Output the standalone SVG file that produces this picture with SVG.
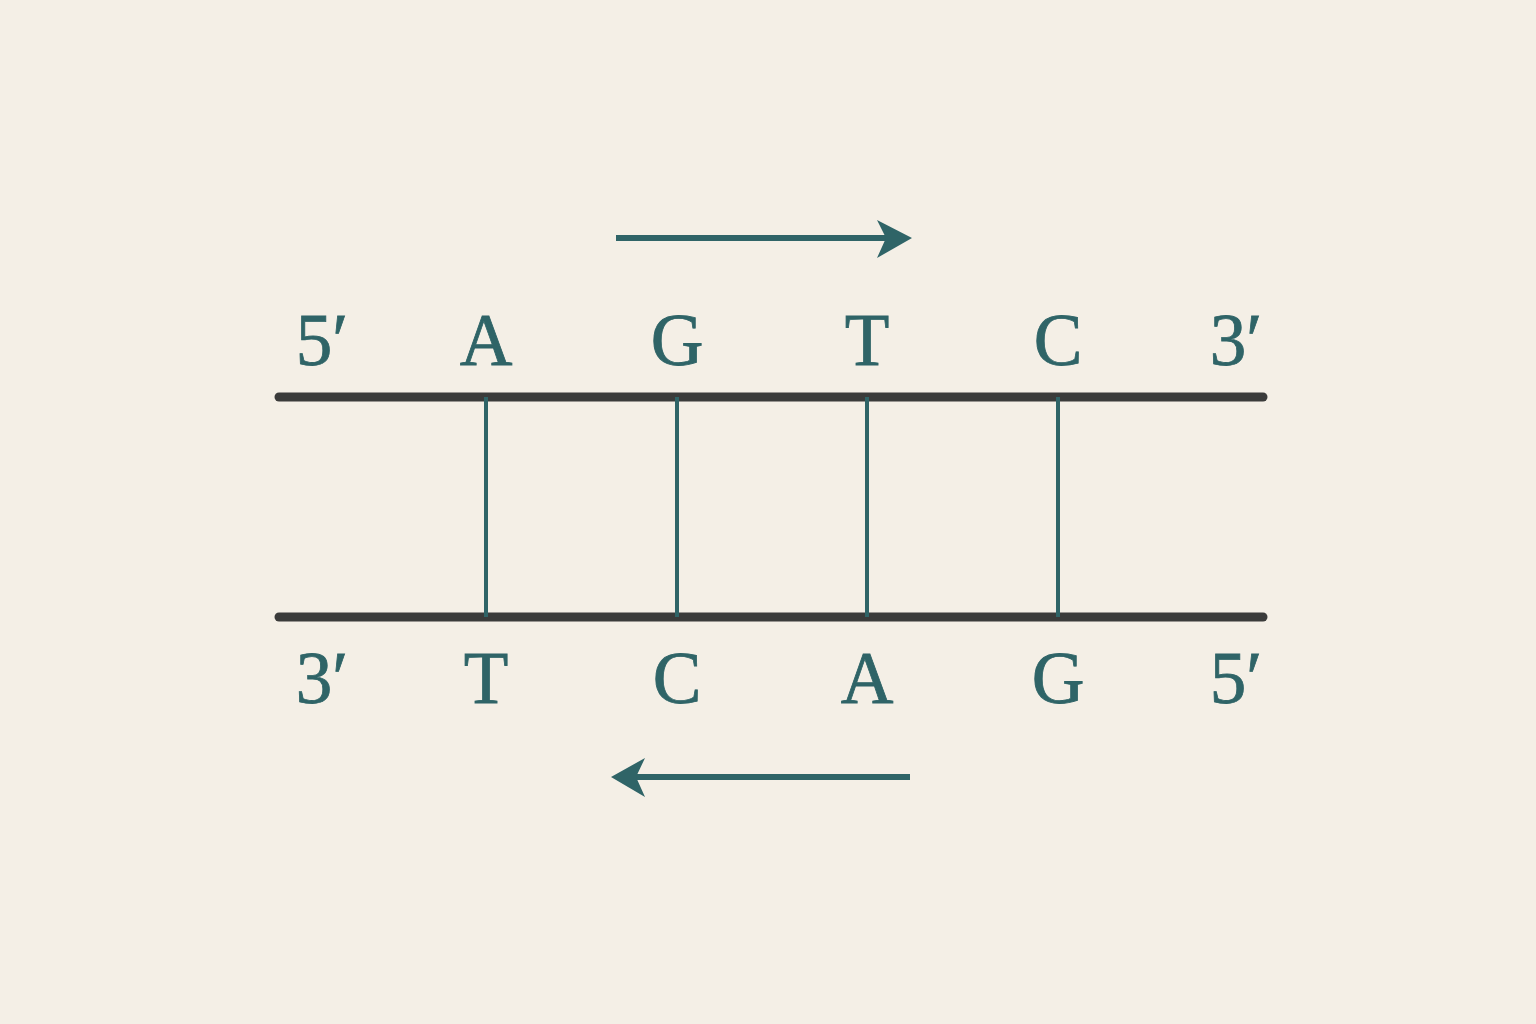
<svg xmlns="http://www.w3.org/2000/svg" width="1536" height="1024" viewBox="0 0 1536 1024">
<style>
.bg{fill:#f4efe6}
.strand{stroke:#3a3b3a;stroke-width:9;stroke-linecap:round;fill:none}
.rung{stroke:#2f6467;stroke-width:4;fill:none}
.arrow{stroke:#2f6467;stroke-width:6;fill:none}
.head{fill:#2f6467}
.lbl{font-family:"Liberation Serif","DejaVu Serif",serif;font-size:73px;fill:#2f6467;stroke:#2f6467;stroke-width:0.8;text-anchor:middle}
</style>
<rect class="bg" x="0" y="0" width="1536" height="1024"/>
<g id="connectors">
<line class="strand" x1="279" y1="397" x2="1263" y2="397"/>
<line class="strand" x1="279" y1="617" x2="1263" y2="617"/>
<line class="rung" x1="486" y1="397" x2="486" y2="617"/>
<line class="rung" x1="677" y1="397" x2="677" y2="617"/>
<line class="rung" x1="867" y1="397" x2="867" y2="617"/>
<line class="rung" x1="1058" y1="397" x2="1058" y2="617"/>
<line class="arrow" x1="616" y1="238" x2="895" y2="238"/>
<path class="head" d="M912,238 L877,220 L886,238 L877,258 Z"/>
<line class="arrow" x1="910" y1="777" x2="628" y2="777"/>
<path class="head" d="M611,777 L645,758 L636,777 L645,797 Z"/>
</g>
<g id="top-labels">
<text class="lbl" x="322" y="365">5′</text>
<text class="lbl" x="486" y="365">A</text>
<text class="lbl" x="677" y="365">G</text>
<text class="lbl" x="867" y="365">T</text>
<text class="lbl" x="1058" y="365">C</text>
<text class="lbl" x="1236" y="365">3′</text>
</g>
<g id="bottom-labels">
<text class="lbl" x="322" y="703">3′</text>
<text class="lbl" x="486" y="703">T</text>
<text class="lbl" x="677" y="703">C</text>
<text class="lbl" x="867" y="703">A</text>
<text class="lbl" x="1058" y="703">G</text>
<text class="lbl" x="1236" y="703">5′</text>
</g>
</svg>
